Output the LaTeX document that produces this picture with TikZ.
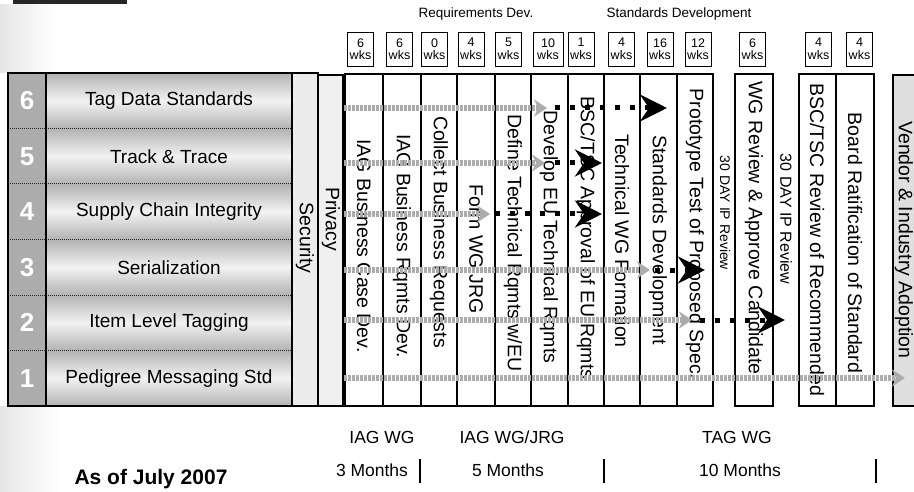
\documentclass[tikz,border=0pt]{standalone}
\usepackage{fontspec}
\setmainfont{Liberation Sans}
\usetikzlibrary{arrows.meta}
\newcommand{\fsz}[1]{\fontsize{#1}{#1}\selectfont}

\begin{document}
\begin{tikzpicture}[x=1pt,y=-1pt]
  \tikzset{
    row label/.style={font=\fsz{19}, inner sep=0pt},
    row number/.style={font=\fsz{26}\bfseries, text=white, inner sep=0pt},
    task/.style={draw=black, line width=1.2pt, fill=white},
    task text/.style={rotate=-90, font=\fsz{19.5}, inner sep=0pt},
    weeks/.style={draw=black, line width=0.9pt, fill=white, minimum width=#1,
        minimum height=34pt, inner sep=0pt, align=center, font=\fsz{12.5}},
    weeks/.default=26pt,
    done path/.style={gray!65, line width=6pt, dash pattern=on 3pt off 1pt,
        -{Stealth[length=13pt,width=17pt]}},
    todo path/.style={black, line width=5pt, dash pattern=on 5pt off 10pt,
        -{Stealth[length=27pt,width=27pt,inset=9pt]}},
    phase label/.style={font=\fsz{13.5}},
    team label/.style={font=\fsz{17.5}}
  }
  \useasboundingbox (0,0) rectangle (914,492);

  \def\T{73}   % table top
  \def\B{406}  % table bottom
  \def\h{55.5} % row height

  % scan margin
  \shade[left color=gray!20, right color=white] (0,5) rectangle (55,73);
  \shade[left color=gray!20, right color=white] (0,406) rectangle (60,492);
  \fill[black!85] (13,0) rectangle (127,4.5);

  % Rows
  \fill[gray!65] (8,\T) rectangle (46,\B);
  \foreach \n/\lbl in {6/Tag Data Standards, 5/Track \& Trace, 4/Supply Chain Integrity,
      3/Serialization, 2/Item Level Tagging, 1/Pedigree Messaging Std}{
    \pgfmathsetmacro{\ry}{\T+(6-\n)*\h}
    \shade[top color=gray!60, bottom color=gray!60, middle color=gray!10] (46,\ry) rectangle (292,\ry+\h);
    \draw[gray!30!black, densely dotted, line width=1pt] (8,\ry) -- (292,\ry);
    \node[row number] (num\n) at (27,\ry+\h/2) {\n};
    \node[row label] (lbl\n) at (169,\ry+\h/2) {\lbl};
  }
  \draw[line width=1.2pt] (8,\T) rectangle (292,\B) (46,\T) -- (46,\B);

  % Security and privacy
  \draw[line width=1.2pt, fill=gray!15] (292,\T) rectangle (318,\B);
  \draw[line width=1.2pt, fill=gray!12] (318,75) rectangle (343,\B);
  \node[task text] (security) at (305,238) {Security};
  \node[task text] (privacy) at (331,219) {Privacy};

  % Task columns
  \foreach \a/\b in {345/383, 383/421, 421/457, 457/495, 495/531, 531/568, 568/604,
      604/640, 640/677, 677/713, 735/773, 799/836, 836/874}
    \draw[task] (\a,74) rectangle (\b,\B);
  \draw[line width=1.2pt, fill=gray!25] (893,75) rectangle (930,\B);

  \node[task text] (t1) at (364,246) {IAG Business Case Dev.};
  \node[task text] (t2) at (402,246) {IAG Business Rqmts Dev.};
  \node[task text] (t3) at (439,232) {Collect Business Requests};
  \node[task text] (t4) at (476,249) {Form WG JRG};
  \node[task text] (t5) at (513,243) {Define Technical Rqmts w/EU};
  \node[task text] (t6) at (549,237) {Develop EU Technical Rqmts};
  \node[task text] (t7) at (586,238) {BSC/TSC Approval of EU Rqmts};
  \node[task text] (t8) at (622,241) {Technical WG Formation};
  \node[task text] (t9) at (658,240) {Standards Development};
  \node[task text] (t10) at (695,234) {Prototype Test of Proposed Spec.};
  \node[task text, font=\fsz{14}] (ip1) at (725,213) {30 DAY IP Review};
  \node[task text] (t11) at (754,228) {WG Review \& Approve Candidate};
  \node[task text, font=\fsz{16}] (ip2) at (786,219) {30 DAY IP Review};
  \node[task text] (t12) at (817,240) {BSC/TSC Review of Recommended};
  \node[task text] (t13) at (855,243) {Board Ratification of Standard};
  \node[task text] (vendor) at (904,240) {Vendor \& Industry Adoption};

  % Durations
  \node[phase label] (reqdev) at (476,14) {Requirements Dev.};
  \node[phase label] (stddev) at (679,14) {Standards Development};
  \foreach \x/\w/\k in {360.5/6/1, 399.5/6/2, 434.5/0/3, 471/4/4, 508.5/5/5, 581/1/7,
      621.5/4/8, 660/16/9, 698/12/10, 752.5/6/11, 818.5/4/12, 859.5/4/13}
    \node[weeks] (wk\k) at (\x,49) {\w\\wks};
  \node[weeks=30pt] (wk6) at (548,49) {10\\wks};

  % Progress
  \foreach \r/\y/\g in {6/108/547, 5/163/545, 4/214/490, 3/270/650, 2/320/692, 1/378/905}{
    \coordinate (s\r) at (344,\y);
    \coordinate (g\r) at (\g,\y);
    \draw[done path] (s\r) -- (g\r);
  }
  \foreach \r/\y/\a/\b in {6/108/555/667, 5/163/555/602, 4/214/495/602, 3/270/655/705, 2/320/700/785}{
    \coordinate (p\r) at (\a,\y);
    \coordinate (q\r) at (\b,\y);
    \draw[todo path] (p\r) -- (q\r);
  }

  % Teams and months
  \node[team label] (iagwg) at (382,437) {IAG WG};
  \node[team label] (jrg) at (512,437) {IAG WG/JRG};
  \node[team label] (tagwg) at (737,437) {TAG WG};
  \node[team label] (m3) at (372,470) {3 Months};
  \node[team label] (m5) at (508,470) {5 Months};
  \node[team label] (m10) at (740,470) {10 Months};
  \foreach \x in {420,604,876}
    \draw[line width=2.5pt] (\x,459) -- (\x,483);

  \node[font=\fsz{21}\bfseries] (asof) at (151,479) {As of July 2007};
\end{tikzpicture}
\end{document}
